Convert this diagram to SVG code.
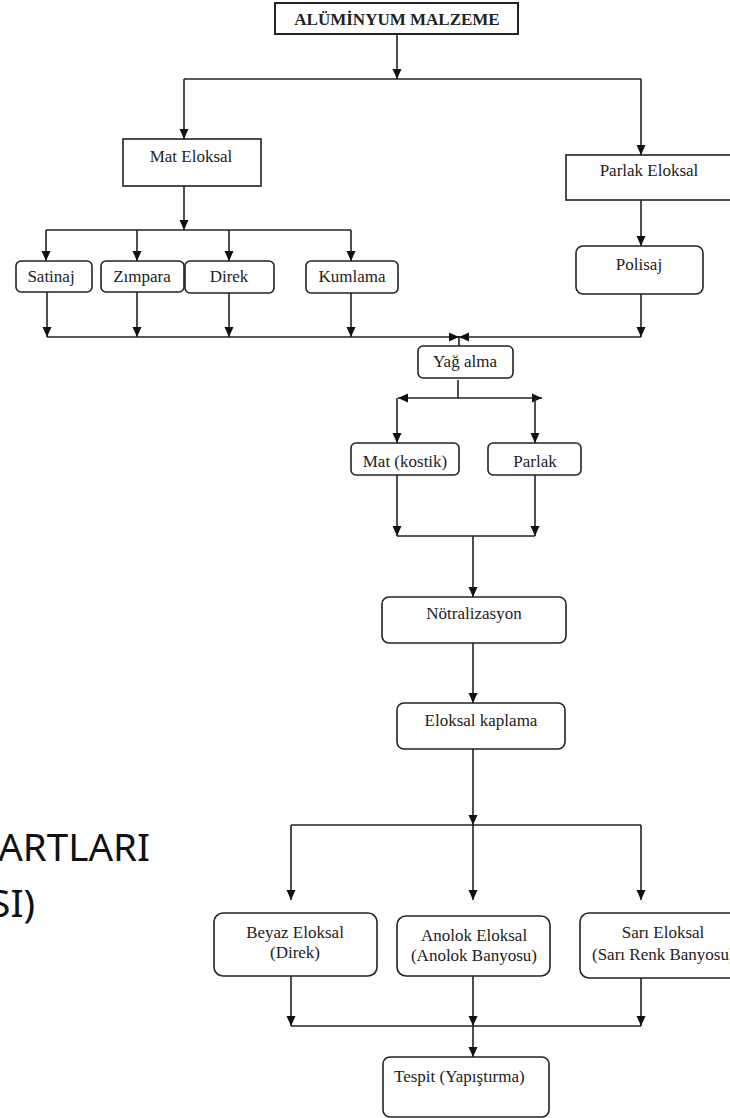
<svg xmlns="http://www.w3.org/2000/svg" width="730" height="1118" viewBox="0 0 730 1118">
<style>
  .box{fill:#fff;stroke:#222;stroke-width:1.6}
  .t{font-family:"Liberation Serif","Times New Roman",serif;font-size:17px;fill:#222;text-anchor:middle}
  .tb{font-weight:bold}
  .c{fill:none;stroke:#222;stroke-width:1.6}
  .side{font-family:"Noto Sans","Open Sans",sans-serif;font-size:38.5px;fill:#111;text-anchor:end}
</style>
<defs>
  <marker id="ah" markerUnits="userSpaceOnUse" markerWidth="10" markerHeight="10" refX="10" refY="5" orient="auto">
    <path d="M0,0.5 L10,5 L0,9.5 z" fill="#111"/>
  </marker>
</defs>
<rect width="730" height="1118" fill="#fff"/>

<g id="side-text">
  <text class="side" x="150" y="861">ARTLARI</text>
  <text class="side" x="35" y="917">SI)</text>
</g>

<g id="connectors">
  <path class="c" d="M397,34 V79" marker-end="url(#ah)"/>
  <path class="c" d="M184,79 H641"/>
  <path class="c" d="M184,79 V139" marker-end="url(#ah)"/>
  <path class="c" d="M641,79 V155" marker-end="url(#ah)"/>
  <path class="c" d="M184,186 V230" marker-end="url(#ah)"/>
  <path class="c" d="M46,230 H351"/>
  <path class="c" d="M46,230 V261" marker-end="url(#ah)"/>
  <path class="c" d="M137,230 V261" marker-end="url(#ah)"/>
  <path class="c" d="M229,230 V261" marker-end="url(#ah)"/>
  <path class="c" d="M351,230 V261" marker-end="url(#ah)"/>
  <path class="c" d="M47,292 V337" marker-end="url(#ah)"/>
  <path class="c" d="M137,292 V337" marker-end="url(#ah)"/>
  <path class="c" d="M229,293 V337" marker-end="url(#ah)"/>
  <path class="c" d="M351,293 V337" marker-end="url(#ah)"/>
  <path class="c" d="M641,200 V246" marker-end="url(#ah)"/>
  <path class="c" d="M641,294 V337" marker-end="url(#ah)"/>
  <path class="c" d="M47,337 H641"/>
  <path class="c" d="M449,337 H459" marker-end="url(#ah)"/>
  <path class="c" d="M469,337 H459" marker-end="url(#ah)"/>
  <path class="c" d="M459,337 V346"/>
  <path class="c" d="M458,380 V398"/>
  <path class="c" d="M458,398 H398" marker-end="url(#ah)"/>
  <path class="c" d="M458,398 H542" marker-end="url(#ah)"/>
  <path class="c" d="M397,398 V443" marker-end="url(#ah)"/>
  <path class="c" d="M535,398 V443" marker-end="url(#ah)"/>
  <path class="c" d="M397,475 V536" marker-end="url(#ah)"/>
  <path class="c" d="M535,475 V536" marker-end="url(#ah)"/>
  <path class="c" d="M397,536 H535"/>
  <path class="c" d="M473,536 V597" marker-end="url(#ah)"/>
  <path class="c" d="M473,643 V703" marker-end="url(#ah)"/>
  <path class="c" d="M473,749 V825" marker-end="url(#ah)"/>
  <path class="c" d="M291,825 H641"/>
  <path class="c" d="M291,825 V900" marker-end="url(#ah)"/>
  <path class="c" d="M473,825 V900" marker-end="url(#ah)"/>
  <path class="c" d="M641,825 V900" marker-end="url(#ah)"/>
  <path class="c" d="M291,976 V1026" marker-end="url(#ah)"/>
  <path class="c" d="M473,976 V1026" marker-end="url(#ah)"/>
  <path class="c" d="M641,978 V1026" marker-end="url(#ah)"/>
  <path class="c" d="M291,1026 H641"/>
  <path class="c" d="M473,1026 V1057" marker-end="url(#ah)"/>
</g>

<g id="n-aluminyum">
  <rect class="box" x="275" y="3" width="243" height="31" style="stroke-width:2"/>
  <text class="t tb" x="397" y="25">ALÜMİNYUM MALZEME</text>
</g>
<g id="n-mat-eloksal">
  <rect class="box" x="123" y="139" width="138" height="47"/>
  <text class="t" x="191" y="162">Mat Eloksal</text>
</g>
<g id="n-parlak-eloksal">
  <rect class="box" x="566" y="155" width="170" height="45"/>
  <text class="t" x="649" y="176">Parlak Eloksal</text>
</g>
<g id="n-satinaj">
  <rect class="box" x="16" y="261" width="76" height="31" rx="5"/>
  <text class="t" x="51" y="282">Satinaj</text>
</g>
<g id="n-zimpara">
  <rect class="box" x="101" y="261" width="83" height="31" rx="5"/>
  <text class="t" x="142" y="282">Zımpara</text>
</g>
<g id="n-direk">
  <rect class="box" x="185" y="261" width="89" height="32" rx="5"/>
  <text class="t" x="229" y="282">Direk</text>
</g>
<g id="n-kumlama">
  <rect class="box" x="306" y="261" width="92" height="32" rx="5"/>
  <text class="t" x="352" y="282">Kumlama</text>
</g>
<g id="n-polisaj">
  <rect class="box" x="576" y="246" width="127" height="48" rx="7"/>
  <text class="t" x="639" y="270">Polisaj</text>
</g>
<g id="n-yag-alma">
  <rect class="box" x="418" y="346" width="95" height="32" rx="5"/>
  <text class="t" x="465" y="367">Yağ alma</text>
</g>
<g id="n-mat-kostik">
  <rect class="box" x="351" y="443" width="108" height="32" rx="5"/>
  <text class="t" x="405" y="467">Mat (kostik)</text>
</g>
<g id="n-parlak">
  <rect class="box" x="488" y="443" width="93" height="32" rx="5"/>
  <text class="t" x="535" y="467">Parlak</text>
</g>
<g id="n-notralizasyon">
  <rect class="box" x="382" y="597" width="184" height="46" rx="7"/>
  <text class="t" x="474" y="619">Nötralizasyon</text>
</g>
<g id="n-eloksal-kaplama">
  <rect class="box" x="397" y="703" width="168" height="46" rx="7"/>
  <text class="t" x="481" y="726">Eloksal kaplama</text>
</g>
<g id="n-beyaz">
  <rect class="box" x="214" y="913" width="163" height="63" rx="9"/>
  <text class="t" x="295" y="938">Beyaz Eloksal</text>
  <text class="t" x="295" y="958">(Direk)</text>
</g>
<g id="n-anolok">
  <rect class="box" x="397" y="916" width="153" height="60" rx="9"/>
  <text class="t" x="474" y="941">Anolok Eloksal</text>
  <text class="t" x="474" y="961">(Anolok Banyosu)</text>
</g>
<g id="n-sari">
  <rect class="box" x="580" y="913" width="170" height="65" rx="9"/>
  <text class="t" x="663" y="938">Sarı Eloksal</text>
  <text class="t" x="592" y="960" style="text-anchor:start">(Sarı Renk Banyosu)</text>
</g>
<g id="n-tespit">
  <rect class="box" x="383" y="1057" width="166" height="60" rx="7"/>
  <text class="t" x="394" y="1082" style="text-anchor:start">Tespit (Yapıştırma)</text>
</g>
</svg>
